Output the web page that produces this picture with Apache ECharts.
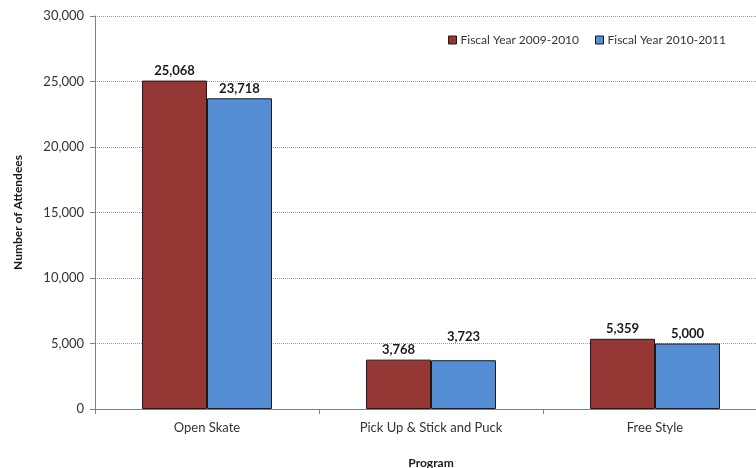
<!DOCTYPE html>
<html><head><meta charset="utf-8">
<script src="https://cdn.jsdelivr.net/npm/echarts@6/dist/echarts.min.js"></script>
<style>html,body{margin:0;padding:0;background:#fff}#c{width:756px;height:468px}</style>
</head><body><div id="c"></div>
<script>
const categories = ['Open Skate', 'Pick Up & Stick and Puck', 'Free Style'];
const seriesNames = ['Fiscal Year 2009-2010', 'Fiscal Year 2010-2011'];
const fy0910 = [25068, 3768, 5359];
const fy1011 = [23718, 3723, 5000];
const colors = ['#953735', '#558ED5'];
const fontFam = 'Lato, "Open Sans", sans-serif';
const chart = echarts.init(document.getElementById('c'));
const fmt = v => v.toLocaleString('en-US');
const mk = (name, data, color, raised) => ({
  name, type: 'bar', barGap: '0%', barCategoryGap: '42%',
  data: data.map((v, i) => raised && raised.includes(i) ? { value: v, label: { offset: [0, -14] } } : v),
  itemStyle: { color, borderColor: '#1a1a1a', borderWidth: 1 },
  label: { show: true, position: 'top', distance: 3, fontFamily: fontFam, fontWeight: 'bold', fontSize: 13, color: '#1a1a1a', formatter: p => fmt(p.value) }
});
chart.setOption({
  animation: false,
  grid: { left: 95, right: -11, top: 16, bottom: 59, outerBoundsMode: 'none', containLabel: false },
  legend: {
    top: 29, right: 25, itemWidth: 8, itemHeight: 8, itemGap: 16,
    icon: 'rect',
    itemStyle: { borderColor: '#1a1a1a', borderWidth: 1 },
    textStyle: { fontFamily: fontFam, fontSize: 12, color: '#333', padding: [0,0,0,-1] },
    data: seriesNames
  },
  xAxis: {
    type: 'category', data: categories,
    name: 'Program', nameLocation: 'middle', nameGap: 48,
    nameTextStyle: { fontFamily: fontFam, fontWeight: 'bold', fontSize: 12, color: '#1a1a1a' },
    axisLine: { lineStyle: { color: '#808080' } },
    axisTick: { show: true, length: 5, lineStyle: { color: '#808080' } },
    axisLabel: { fontFamily: fontFam, fontSize: 13, color: '#333', margin: 12 }
  },
  yAxis: {
    type: 'value', min: 0, max: 30000, interval: 5000,
    name: 'Number of Attendees', nameLocation: 'middle', nameGap: 71,
    nameTextStyle: { fontFamily: fontFam, fontWeight: 'bold', fontSize: 12, color: '#1a1a1a' },
    axisLine: { show: true, lineStyle: { color: '#808080' } },
    axisTick: { show: true, length: 5, lineStyle: { color: '#808080' } },
    axisLabel: { fontFamily: fontFam, fontSize: 13, color: '#333', margin: 11, formatter: v => fmt(v) },
    splitLine: { lineStyle: { color: '#9a9a9a', type: [1, 1] } }
  },
  series: [mk(seriesNames[0], fy0910, colors[0]), mk(seriesNames[1], fy1011, colors[1], [1])]
});
</script></body></html>
